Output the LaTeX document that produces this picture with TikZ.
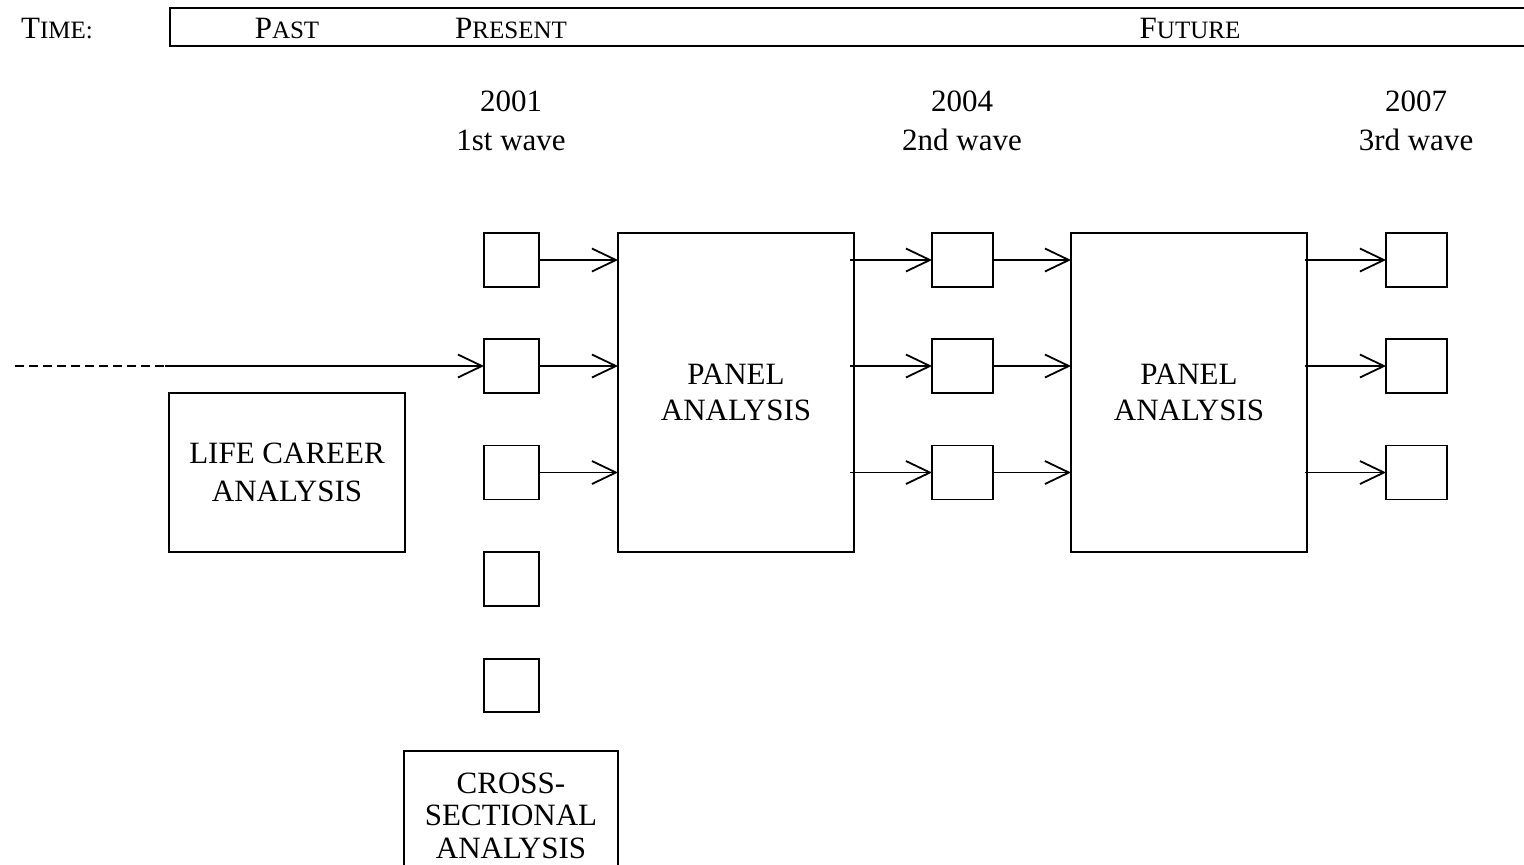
\documentclass[tikz,border=0pt]{standalone}
\usepackage{fontspec}
\setmainfont{Liberation Serif}
\usetikzlibrary{arrows.meta}
\newcommand\fsc[2]{#1{\fontsize{12.5}{12.5}\selectfont #2}}
\begin{document}
\begin{tikzpicture}[x=0.5pt,y=-0.5pt,
  font=\fontsize{15.5}{18}\selectfont,
  every node/.style={inner sep=0pt,outer sep=0pt},
  sbox/.style={draw,line width=0.9pt,minimum width=27.5pt,minimum height=27pt},
  bigbox/.style={draw,line width=0.9pt,minimum width=118pt,minimum height=159.5pt,align=center},
  conn/.style={line width=0.75pt,-{Straight Barb[length=12pt,width=11.5pt,line width=0.9pt]}},
  lbl/.style={anchor=base}]
\useasboundingbox (0,0) rectangle (1524,864);
\clip (0,0) rectangle (1524,864);
% header
\node[draw,line width=0.9pt,anchor=north west,minimum width=700pt,minimum height=19pt] (bar) at (170,8) {};
\node[lbl] (time) at (57,38) {\fsc{T}{IME:}};
\node[lbl] (past) at (287,38) {\fsc{P}{AST}};
\node[lbl] (present) at (511,38) {\fsc{P}{RESENT}};
\node[lbl] (future) at (1190,38) {\fsc{F}{UTURE}};
% years
\node[lbl] (y1) at (511,111) {2001};
\node[lbl] (w1) at (511,150) {1st wave};
\node[lbl] (y2) at (962,111) {2004};
\node[lbl] (w2) at (962,150) {2nd wave};
\node[lbl] (y3) at (1416,111) {2007};
\node[lbl] (w3) at (1416,150) {3rd wave};
% small boxes
\node[sbox] (a1) at (511.5,260) {};
\node[sbox] (a2) at (511.5,366) {};
\node[sbox] (a3) at (511.5,472.5) {};
\node[sbox] (a4) at (511.5,579) {};
\node[sbox,minimum height=26.5pt] (a5) at (511.5,685.5) {};
\node[sbox,minimum width=30.5pt] (b1) at (962.5,260) {};
\node[sbox,minimum width=30.5pt] (b2) at (962.5,366) {};
\node[sbox,minimum width=30.5pt] (b3) at (962.5,472.5) {};
\node[sbox,minimum width=30.5pt] (c1) at (1416.5,260) {};
\node[sbox,minimum width=30.5pt] (c2) at (1416.5,366) {};
\node[sbox,minimum width=30.5pt] (c3) at (1416.5,472.5) {};
% big boxes
\node[bigbox] (p1) at (736,392.5) {PANEL\\ANALYSIS};
\node[bigbox] (p2) at (1189,392.5) {PANEL\\ANALYSIS};
\node[draw,line width=0.9pt,minimum width=118pt,minimum height=79.5pt,align=center] (life) at (287,472.5) {LIFE CAREER\\[1pt]ANALYSIS};
\node[draw,line width=0.9pt,anchor=north,minimum width=107pt,minimum height=70pt,align=center] (cross) at (511,751) {};
\node[align=center,anchor=north,font=\fontsize{15.5}{16.2}\selectfont] (crosst) at (511,773) {CROSS-\\SECTIONAL\\ANALYSIS};
% connectors
\coordinate (dstart) at (15,366);
\coordinate (dend) at (165,366);
\draw[line width=0.75pt,dash pattern=on 4.3pt off 2.7pt] (dstart) -- (dend);
\draw[conn] (dend) -- (a2.west);
\foreach \i in {1,2,3}{
  \draw[conn] (a\i.east) -- (p1.west |- a\i.east);
  \draw[conn] ([xshift=-2pt]p1.east |- b\i.west) -- (b\i.west);
  \draw[conn] (b\i.east) -- (p2.west |- b\i.east);
  \draw[conn] ([xshift=-1pt]p2.east |- c\i.west) -- (c\i.west);
}
\end{tikzpicture}
\end{document}
